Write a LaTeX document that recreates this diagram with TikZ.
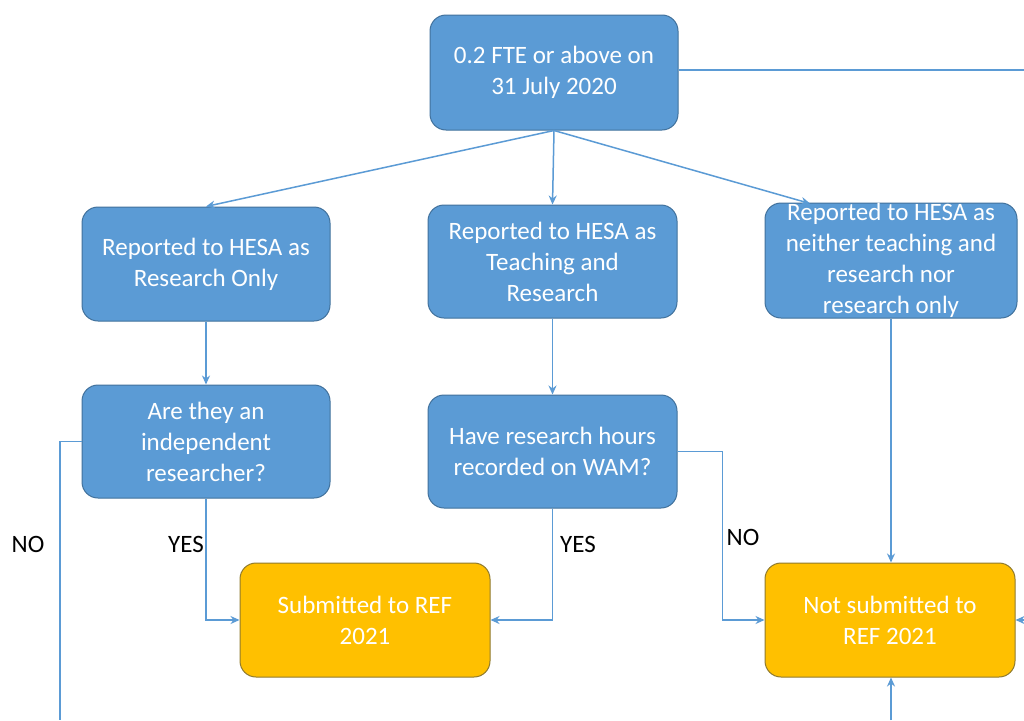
\documentclass[tikz,border=0pt]{standalone}
\usepackage{fontspec}
\setmainfont{Carlito}
\usetikzlibrary{arrows.meta,calc}
\definecolor{bfill}{HTML}{5B9BD5}
\definecolor{bdraw}{HTML}{41719C}
\definecolor{ofill}{HTML}{FFC000}
\definecolor{odraw}{HTML}{8F7A2E}
\tikzset{
  box/.style={rectangle,rounded corners=16pt,fill=bfill,draw=bdraw,line width=1pt,
    text=white,align=center,font=\fontsize{25}{31}\selectfont,inner sep=0pt},
  obox/.style={box,fill=ofill,draw=odraw},
  conn/.style={draw=bfill,line width=1.5pt,-{Stealth[length=9pt,width=8pt]}},
  line/.style={draw=bfill,line width=1.5pt},
  lbl/.style={font=\fontsize{25}{30}\selectfont,text=black}
}
\begin{document}
\begin{tikzpicture}[x=1pt,y=-1pt]
\useasboundingbox (0,0) rectangle (1024,720);
\fill[white] (0,0) rectangle (1024,720);
\node[box,minimum width=248pt,minimum height=115pt] (top) at (554,72.5) {0.2 FTE or above on\\31 July 2020};
\node[box,minimum width=248pt,minimum height=114pt] (ro) at (206,264) {Reported to HESA as\\Research Only};
\node[box,minimum width=249pt,minimum height=113pt] (tr) at (552.5,261.5) {Reported to HESA as\\Teaching and\\Research};
\node[box,minimum width=252pt,minimum height=115pt,font=\fontsize{25}{31}\selectfont] (ne) at (891,260.5) {Reported to HESA as\\neither teaching and\\research nor\\research only};
\node[box,minimum width=248pt,minimum height=113pt] (ind) at (206,441.5) {Are they an\\independent\\researcher?};
\node[box,minimum width=249pt,minimum height=113pt] (wam) at (552.5,451.5) {Have research hours\\recorded on WAM?};
\node[obox,minimum width=250pt,minimum height=114pt] (sub) at (365,620) {Submitted to REF\\2021};
\node[obox,minimum width=250pt,minimum height=114pt] (nsub) at (890,620) {Not submitted to\\REF 2021};

\coordinate (neIn) at (810,203.5);
\coordinate (eTop) at (1024,70);
\coordinate (eRight) at (1024,620);
\coordinate (eLeft) at (60,720);
\coordinate (eBot) at (891,720);

\draw[conn] (top.south) -- (ro.north);
\draw[conn] (top.south) -- (tr.north);
\draw[conn] (top.south) -- (neIn);
\draw[line] (top.east |- eTop) -- (eTop);
\draw[conn] (ro.south) -- (ind.north);
\draw[conn] (tr.south) -- (wam.north);
\draw[conn] (ne.south -| eBot) -- (nsub.north -| eBot);
\draw[conn] (ind.south) |- (sub.west);
\draw[line] (ind.west) -| (eLeft);
\draw[conn] (wam.south) |- (sub.east);
\draw[conn] (wam.east) -- ++(45,0) |- (nsub.west);
\draw[conn] (eRight) -- (nsub.east);
\draw[conn] (eBot) -- (nsub.south -| eBot);

\node[lbl] (l1) at (28,544) {NO};
\node[lbl] (l2) at (186,544) {YES};
\node[lbl] (l3) at (578,544) {YES};
\node[lbl] (l4) at (743,537) {NO};
\end{tikzpicture}
\end{document}
